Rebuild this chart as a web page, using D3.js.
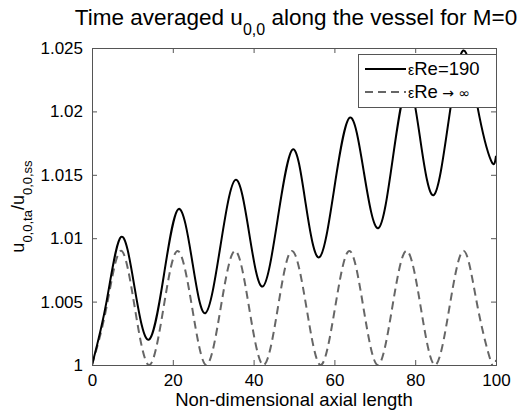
<!DOCTYPE html>
<html>
<head>
<meta charset="utf-8">
<script src="https://cdn.jsdelivr.net/npm/d3@7"></script>
<style>
  html, body { margin: 0; padding: 0; background: #fff; }
  svg { display: block; font-family: "Liberation Sans", Arial, sans-serif; }
</style>
</head>
<body>
<svg width="527" height="410"></svg>
<script>
(function() {
  // values: [axial length, u_ta / u_ss]
  var finiteRe = [
    [0, 1.0000], [3.6, 1.0050], [7.2, 1.0101], [10.6, 1.0060], [14.1, 1.0020],
    [17.8, 1.0071], [21.4, 1.0123], [24.8, 1.0082], [28.1, 1.0041],
    [31.8, 1.0094], [35.5, 1.0146], [38.9, 1.0104], [42.3, 1.0062],
    [46.0, 1.0116], [49.7, 1.0170], [52.9, 1.0127], [56.3, 1.0085],
    [60.0, 1.0140], [63.8, 1.0195], [67.3, 1.0152], [70.9, 1.0108],
    [74.5, 1.0164], [78.1, 1.0221], [81.3, 1.0177], [84.6, 1.0134],
    [88.2, 1.0191], [91.9, 1.0248], [95.4, 1.0204], [98.8, 1.0161],
    [100, 1.0165]
  ]
  var infiniteRe = [
    [0, 1.0000], [3.55, 1.0045], [7.1, 1.0090], [10.6, 1.0045], [14.15, 1.0000],
    [17.7, 1.0045], [21.2, 1.0090], [24.8, 1.0045], [28.3, 1.0000],
    [31.85, 1.0045], [35.4, 1.0090], [38.9, 1.0045], [42.45, 1.0000],
    [46.0, 1.0045], [49.5, 1.0090], [53.1, 1.0045], [56.6, 1.0000],
    [60.15, 1.0045], [63.7, 1.0090], [67.2, 1.0045], [70.75, 1.0000],
    [74.3, 1.0045], [77.85, 1.0090], [81.4, 1.0045], [84.9, 1.0000],
    [88.45, 1.0045], [92.0, 1.0090], [95.5, 1.0045], [99.05, 1.0000],
    [100, 1.0004]
  ]
  var xTicks = [0, 20, 40, 60, 80, 100]
  var yTicks = [1, 1.005, 1.01, 1.015, 1.02, 1.025]
  var yTickLabels = ['1', '1.005', '1.01', '1.015', '1.02', '1.025']

  var svg = d3.select('svg')
  var margin = {top: 48, right: 31, bottom: 45, left: 92}
  var width = 527 - margin.left - margin.right
  var height = 410 - margin.top - margin.bottom
  var frameColor = '#555'

  var x = d3.scaleLinear().domain([0, 100]).range([0, width])
  var y = d3.scaleLinear().domain([1, 1.025]).range([height, 0])

  var g = svg.append('g')
    .attr('transform', 'translate(' + margin.left + ',' + margin.top + ')')

  g.append('clipPath').attr('id', 'plot-clip')
    .append('rect').attr('width', width).attr('height', height)

  // curves
  var line = d3.line()
    .x(function(d) { return x(d[0]) })
    .y(function(d) { return y(d[1]) })
    .curve(d3.curveNatural)

  g.append('path')
    .datum(infiniteRe)
    .attr('clip-path', 'url(#plot-clip)')
    .attr('d', line)
    .attr('fill', 'none')
    .attr('stroke', '#666')
    .attr('stroke-width', 2)
    .attr('stroke-dasharray', '8,5')

  g.append('path')
    .datum(finiteRe)
    .attr('clip-path', 'url(#plot-clip)')
    .attr('d', line)
    .attr('fill', 'none')
    .attr('stroke', '#000')
    .attr('stroke-width', 2)

  // axes: labelled bottom/left, bare ticks top/right, all pointing inwards
  function styleAxis(sel) {
    sel.select('.domain').remove()
    sel.selectAll('.tick line').attr('stroke', frameColor)
    sel.selectAll('.tick text')
      .attr('fill', '#000')
      .attr('font-size', 17)
      .attr('font-family', '"Liberation Sans", Arial, sans-serif')
  }

  g.append('g')
    .attr('transform', 'translate(0,' + height + ')')
    .call(d3.axisBottom(x).tickValues(xTicks).tickSizeInner(-5).tickSizeOuter(0).tickPadding(9))
    .call(styleAxis)

  g.append('g')
    .call(d3.axisTop(x).tickValues(xTicks).tickSizeInner(-5).tickSizeOuter(0).tickFormat(''))
    .call(styleAxis)

  g.append('g')
    .call(d3.axisLeft(y).tickValues(yTicks).tickSizeInner(-5).tickSizeOuter(0).tickPadding(9)
      .tickFormat(function(d, i) { return yTickLabels[i] }))
    .call(styleAxis)

  g.append('g')
    .attr('transform', 'translate(' + width + ',0)')
    .call(d3.axisRight(y).tickValues(yTicks).tickSizeInner(-5).tickSizeOuter(0).tickFormat(''))
    .call(styleAxis)

  g.append('rect')
    .attr('width', width)
    .attr('height', height)
    .attr('fill', 'none')
    .attr('stroke', frameColor)
    .attr('stroke-width', 1)
    .attr('shape-rendering', 'crispEdges')

  // legend
  var legend = g.append('g').attr('transform', 'translate(' + (width - 138) + ',6)')
  legend.append('rect')
    .attr('width', 138)
    .attr('height', 53)
    .attr('fill', '#fff')
    .attr('stroke', frameColor)
    .attr('shape-rendering', 'crispEdges')

  var entries = [
    {stroke: '#000', dash: null, label: 'Re=190'},
    {stroke: '#666', dash: '8,5', label: 'Re'}
  ]
  entries.forEach(function(e, i) {
    var cy = 15 + i * 23
    legend.append('line')
      .attr('x1', 7).attr('x2', 48)
      .attr('y1', cy).attr('y2', cy)
      .attr('stroke', e.stroke)
      .attr('stroke-width', 2)
      .attr('stroke-dasharray', e.dash)
    var t = legend.append('text')
      .attr('x', 50).attr('y', cy + 6)
      .attr('font-size', 18.5)
    t.append('tspan').attr('font-size', 14).text('\u03B5')
    t.append('tspan').text(e.label)
    if (i === 1) {
      t.append('tspan').attr('font-size', 14).attr('font-family', '"DejaVu Sans", sans-serif')
        .text(' \u2192 \u221E')
    }
  })

  // title
  var title = svg.append('text')
    .attr('x', 296)
    .attr('y', 25)
    .attr('text-anchor', 'middle')
    .attr('font-size', 22.5)
  title.append('tspan').text('Time averaged u')
  title.append('tspan').attr('font-size', 16).attr('dy', 10).text('0,0')
  title.append('tspan').attr('dy', -10).text(' along the vessel for M=0')

  // x label
  svg.append('text')
    .attr('x', margin.left + width / 2)
    .attr('y', 406)
    .attr('text-anchor', 'middle')
    .attr('font-size', 18.5)
    .text('Non-dimensional axial length')

  // y label
  var ylab = svg.append('text')
    .attr('transform', 'translate(24,' + (margin.top + height / 2) + ') rotate(-90)')
    .attr('text-anchor', 'middle')
    .attr('font-size', 18)
  ylab.append('tspan').text('u')
  ylab.append('tspan').attr('font-size', 13).attr('dy', 8).text('0,0,ta')
  ylab.append('tspan').attr('dy', -8).text('/u')
  ylab.append('tspan').attr('font-size', 13).attr('dy', 8).text('0,0,ss')
})();
</script>
</body>
</html>
